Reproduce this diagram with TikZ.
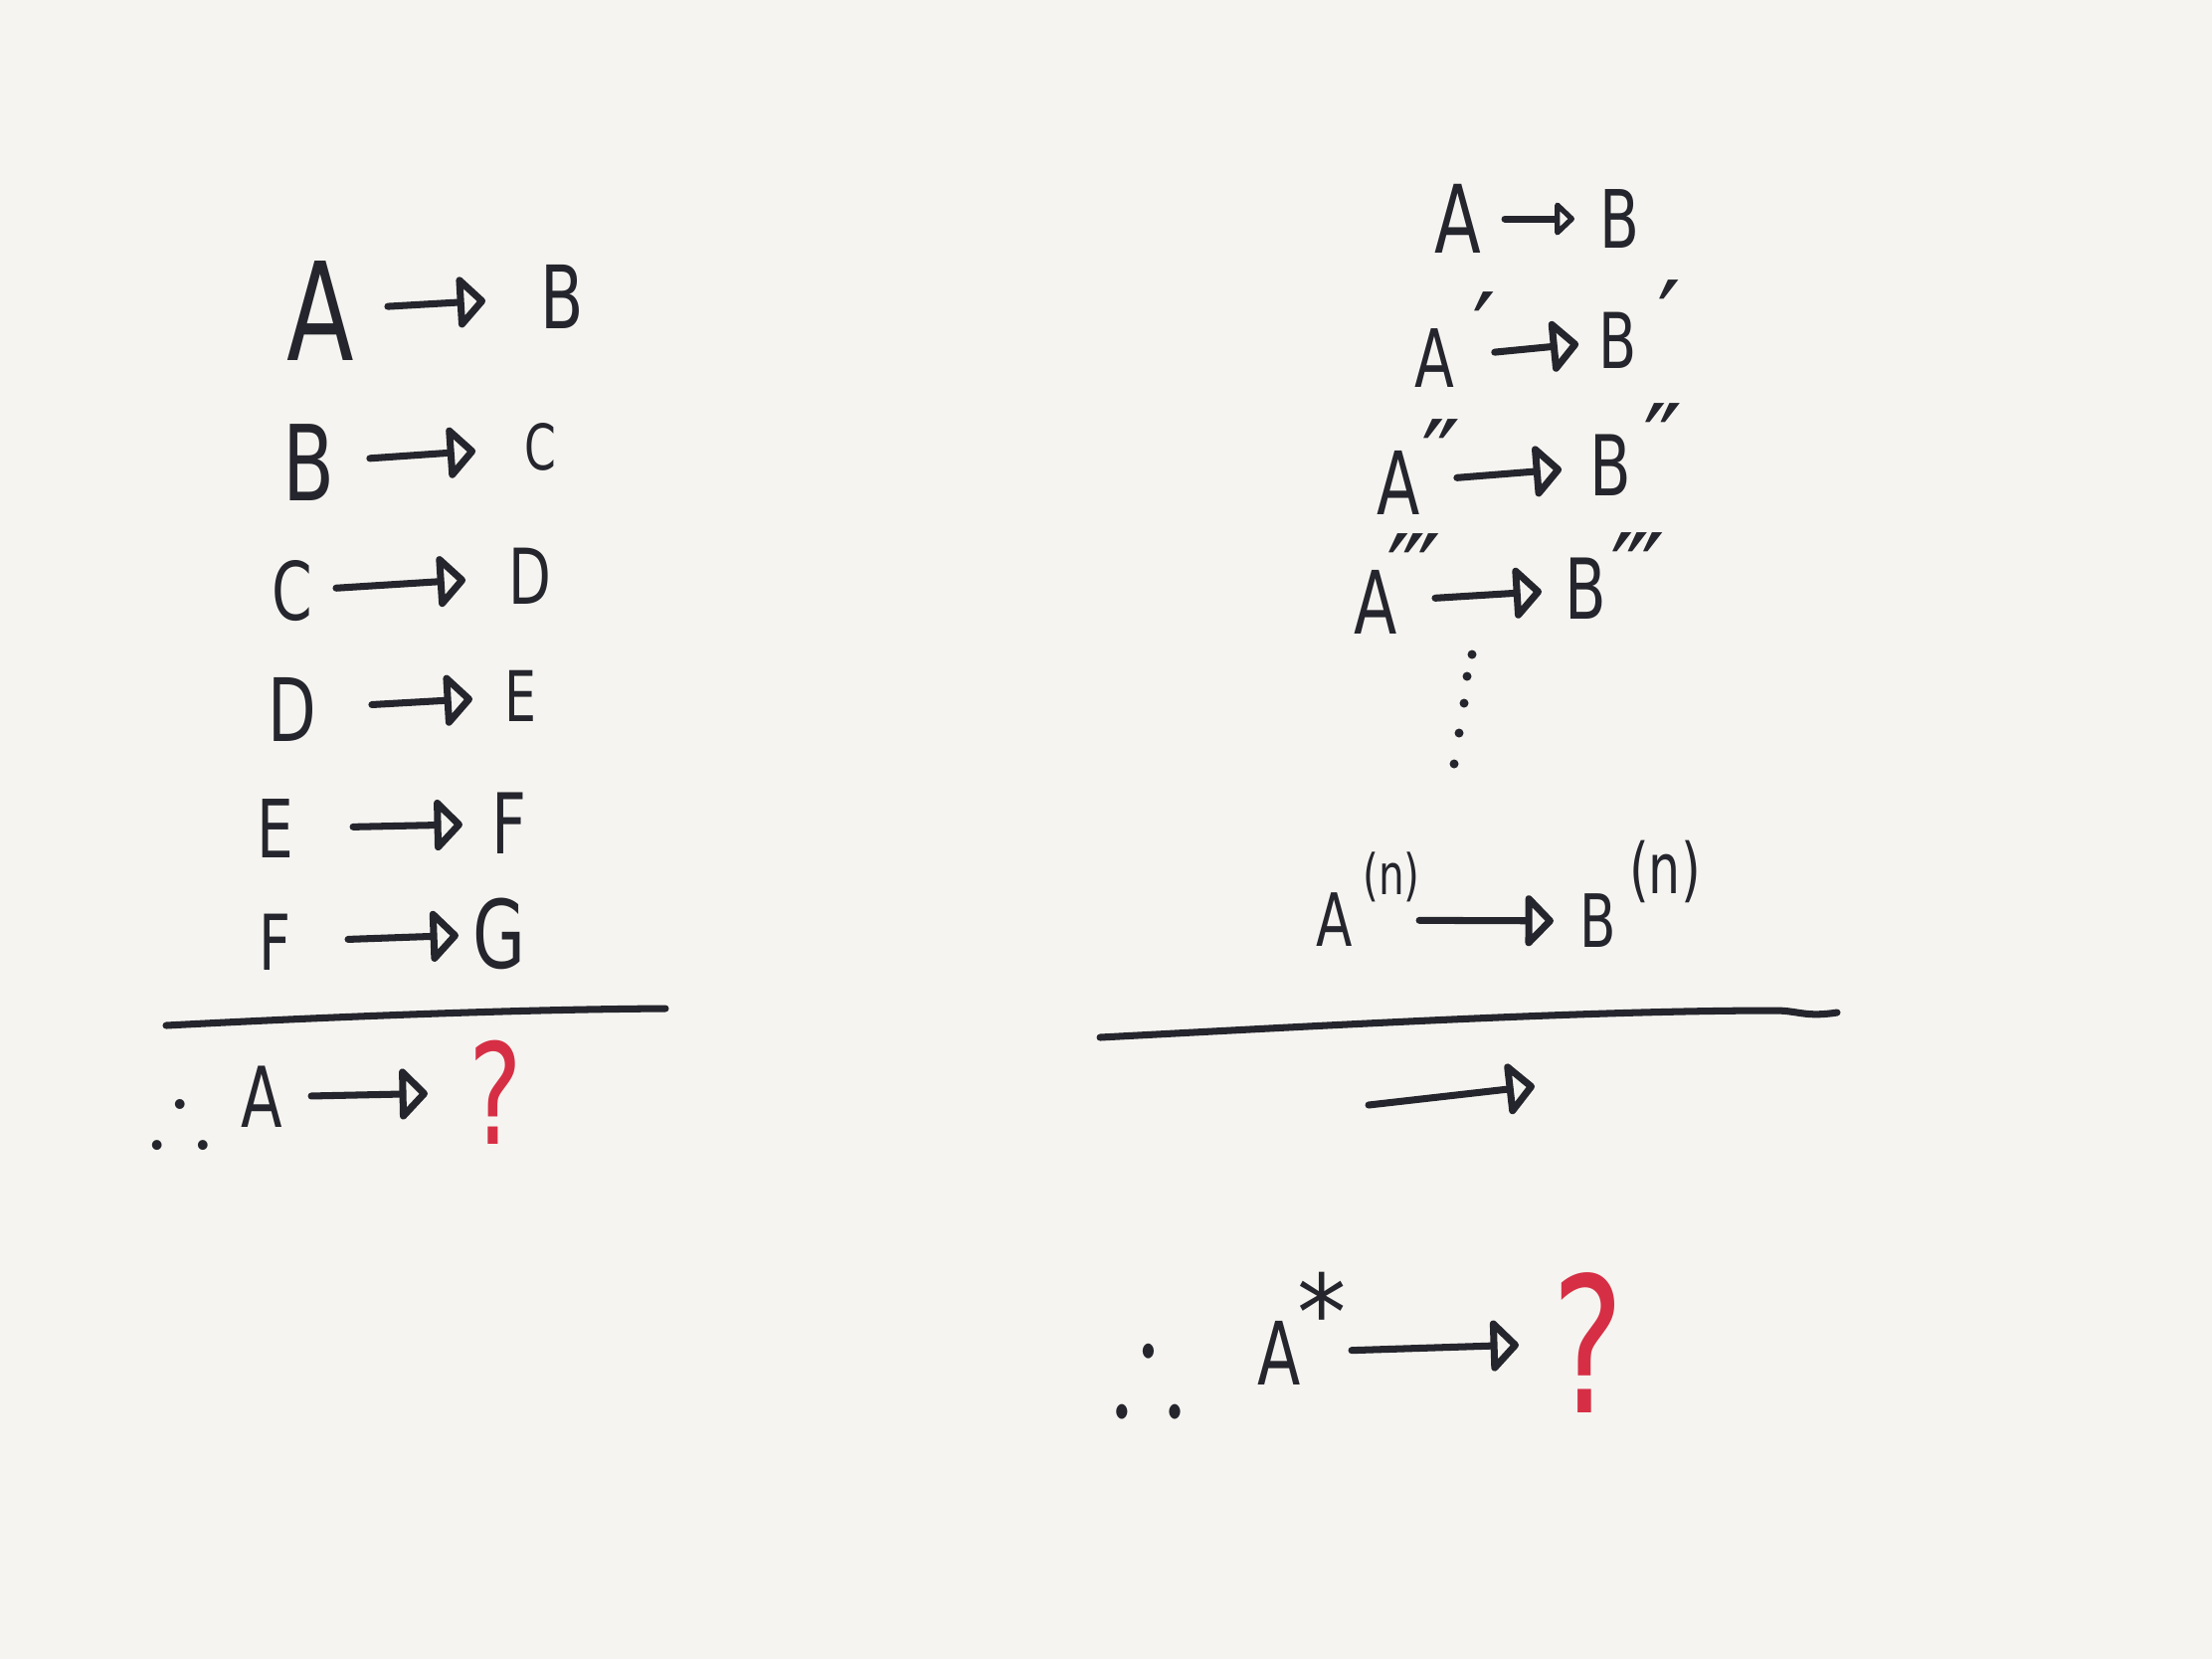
\documentclass[tikz,border=0pt]{standalone}
\usepackage{amssymb}
\usepackage{fontspec}
\setmainfont{DejaVu Sans}
\usetikzlibrary{arrows.meta}
\definecolor{ink}{HTML}{25252D}
\definecolor{qred}{HTML}{D62F45}
\definecolor{paper}{HTML}{F5F4F0}
\tikzset{
  ltr/.style={font=\fontsize{#1}{#1}\selectfont, inner sep=0pt, xscale=0.72, text=ink},
  ltr/.default=23,
  qmark/.style={ltr=#1, text=qred},
  tick/.style={font=\fontsize{30}{30}\selectfont, inner sep=0pt, anchor=north, text=ink},
  imp/.style={draw=ink, line width=2pt, line cap=round, line join=round,
    -{Triangle[open, round, length=8.5pt, width=17pt]}},
  smallimp/.style={imp, -{Triangle[open, round, length=6pt, width=11pt]}},
  rule/.style={draw=ink, line width=2pt, line cap=round}
}
\begin{document}
\begin{tikzpicture}[x=0.01cm, y=-0.01cm]
  % paper
  \fill[paper] (0,0) rectangle (2224,1668);
  \useasboundingbox (0,0) rectangle (2224,1668);

  % left: chain of implications
  \node[ltr=39] (la1) at (322,312) {A};
  \node[ltr=25] (lb1) at (565,298) {B};
  \node[ltr=30] (lb2) at (311,465) {B};
  \node[ltr=18] (lc2) at (543,449) {C};
  \node[ltr=23] (lc3) at (294,594) {C};
  \node[ltr=22] (ld3) at (533,579) {D};
  \node[ltr=25] (ld4) at (294,713) {D};
  \node[ltr=20] (le4) at (523,700) {E};
  \node[ltr=23] (le5) at (277,833) {E};
  \node[ltr=24] (lf5) at (512,828) {F};
  \node[ltr=22] (lf6) at (277,947) {F};
  \node[ltr=27] (lg6) at (502,939) {G};
  \draw[imp, shorten <=0.68cm, shorten >=0.77cm] (la1.center) -- (lb1.center);
  \draw[imp, shorten <=0.61cm, shorten >=0.65cm] (lb2.center) -- (lc2.center);
  \draw[imp, shorten <=0.44cm, shorten >=0.65cm] (lc3.center) -- (ld3.center);
  \draw[imp, shorten <=0.80cm, shorten >=0.48cm] (ld4.center) -- (le4.center);
  \draw[imp, shorten <=0.78cm, shorten >=0.47cm] (le5.center) -- (lf5.center);
  \draw[imp, shorten <=0.73cm, shorten >=0.41cm] (lf6.center) -- (lg6.center);

  % left: conclusion
  \coordinate (lr0) at (167,1031);
  \coordinate (lr1) at (669,1014);
  \draw[rule] (lr0) .. controls (300,1024) and (500,1015) .. (lr1);
  \node[ltr=27, xscale=1.35] (lthf) at (181,1117) {$\therefore$};
  \node[ltr=24] (lac) at (263,1103) {A};
  \node[qmark=40] (lq) at (498,1098) {?};
  \draw[imp, shorten <=0.50cm, shorten >=0.68cm] (lac.center) -- (lq.center);

  % right: primed implications
  \node[ltr=27] (ra1) at (1466,220) {A};
  \node[ltr=23] (rb1) at (1628,220) {B};
  \node[ltr=23] (ra2) at (1442,360) {A};
  \node[ltr=22] (rb2) at (1627,342) {B};
  \node[ltr=25] (ra3) at (1406,485) {A};
  \node[ltr=24] (rb3) at (1619,468) {B};
  \node[ltr=25] (ra4) at (1383,605) {A};
  \node[ltr=24] (rb4) at (1594,592) {B};
  \node[tick] (ra2s) at (1492,293) {′};
  \node[tick] (rb2s) at (1678,281) {′};
  \node[tick] (ra3s) at (1449,421) {″};
  \node[tick] (rb3s) at (1672,405) {″};
  \node[tick] (ra4s) at (1422,536) {‴};
  \node[tick] (rb4s) at (1647,535) {‴};
  \draw[smallimp, shorten <=0.47cm, shorten >=0.45cm] (ra1.center) -- (rb1.center);
  \draw[imp, shorten <=0.61cm, shorten >=0.40cm] (ra2.center) -- (rb2.center);
  \draw[imp, shorten <=0.59cm, shorten >=0.49cm] (ra3.center) -- (rb3.center);
  \draw[imp, shorten <=0.60cm, shorten >=0.44cm] (ra4.center) -- (rb4.center);

  % vertical dots
  \foreach \x/\y in {1480/658, 1475/680, 1472/707, 1467/737, 1462/768}
    \fill[ink] (\x,\y) circle (0.045cm);

  % right: n-th step
  \node[ltr=21] (ran) at (1342,925) {A};
  \node[ltr=21] (rbn) at (1607,926) {B};
  \node[ltr=16] (rans) at (1399,882) {(n)};
  \node[ltr=20] (rbns) at (1674,876) {(n)};
  \draw[imp, shorten <=0.85cm, shorten >=0.45cm] (ran.center) -- (rbn.center);

  % right: conclusion
  \coordinate (rr0) at (1106,1043);
  \coordinate (rr1) at (1785,1016);
  \coordinate (rr2) at (1847,1018);
  \draw[rule] (rr0) .. controls (1350,1030) and (1600,1016) .. (rr1)
    .. controls (1808,1016) and (1815,1023) .. (rr2);
  \coordinate (rm0) at (1376,1111);
  \coordinate (rm1) at (1543,1092);
  \draw[imp] (rm0) -- (rm1);
  \node[ltr=40, xscale=1.05] (rthf) at (1155,1368) {$\therefore$};
  \node[ltr=25] (ras) at (1286,1360) {A};
  \node[ltr=30, xscale=1.3] (rasx) at (1329,1318) {*};
  \node[qmark=54] (rq) at (1597,1350) {?};
  \draw[imp, shorten <=0.73cm, shorten >=0.70cm] (ras.center) -- (rq.center);
\end{tikzpicture}
\end{document}
